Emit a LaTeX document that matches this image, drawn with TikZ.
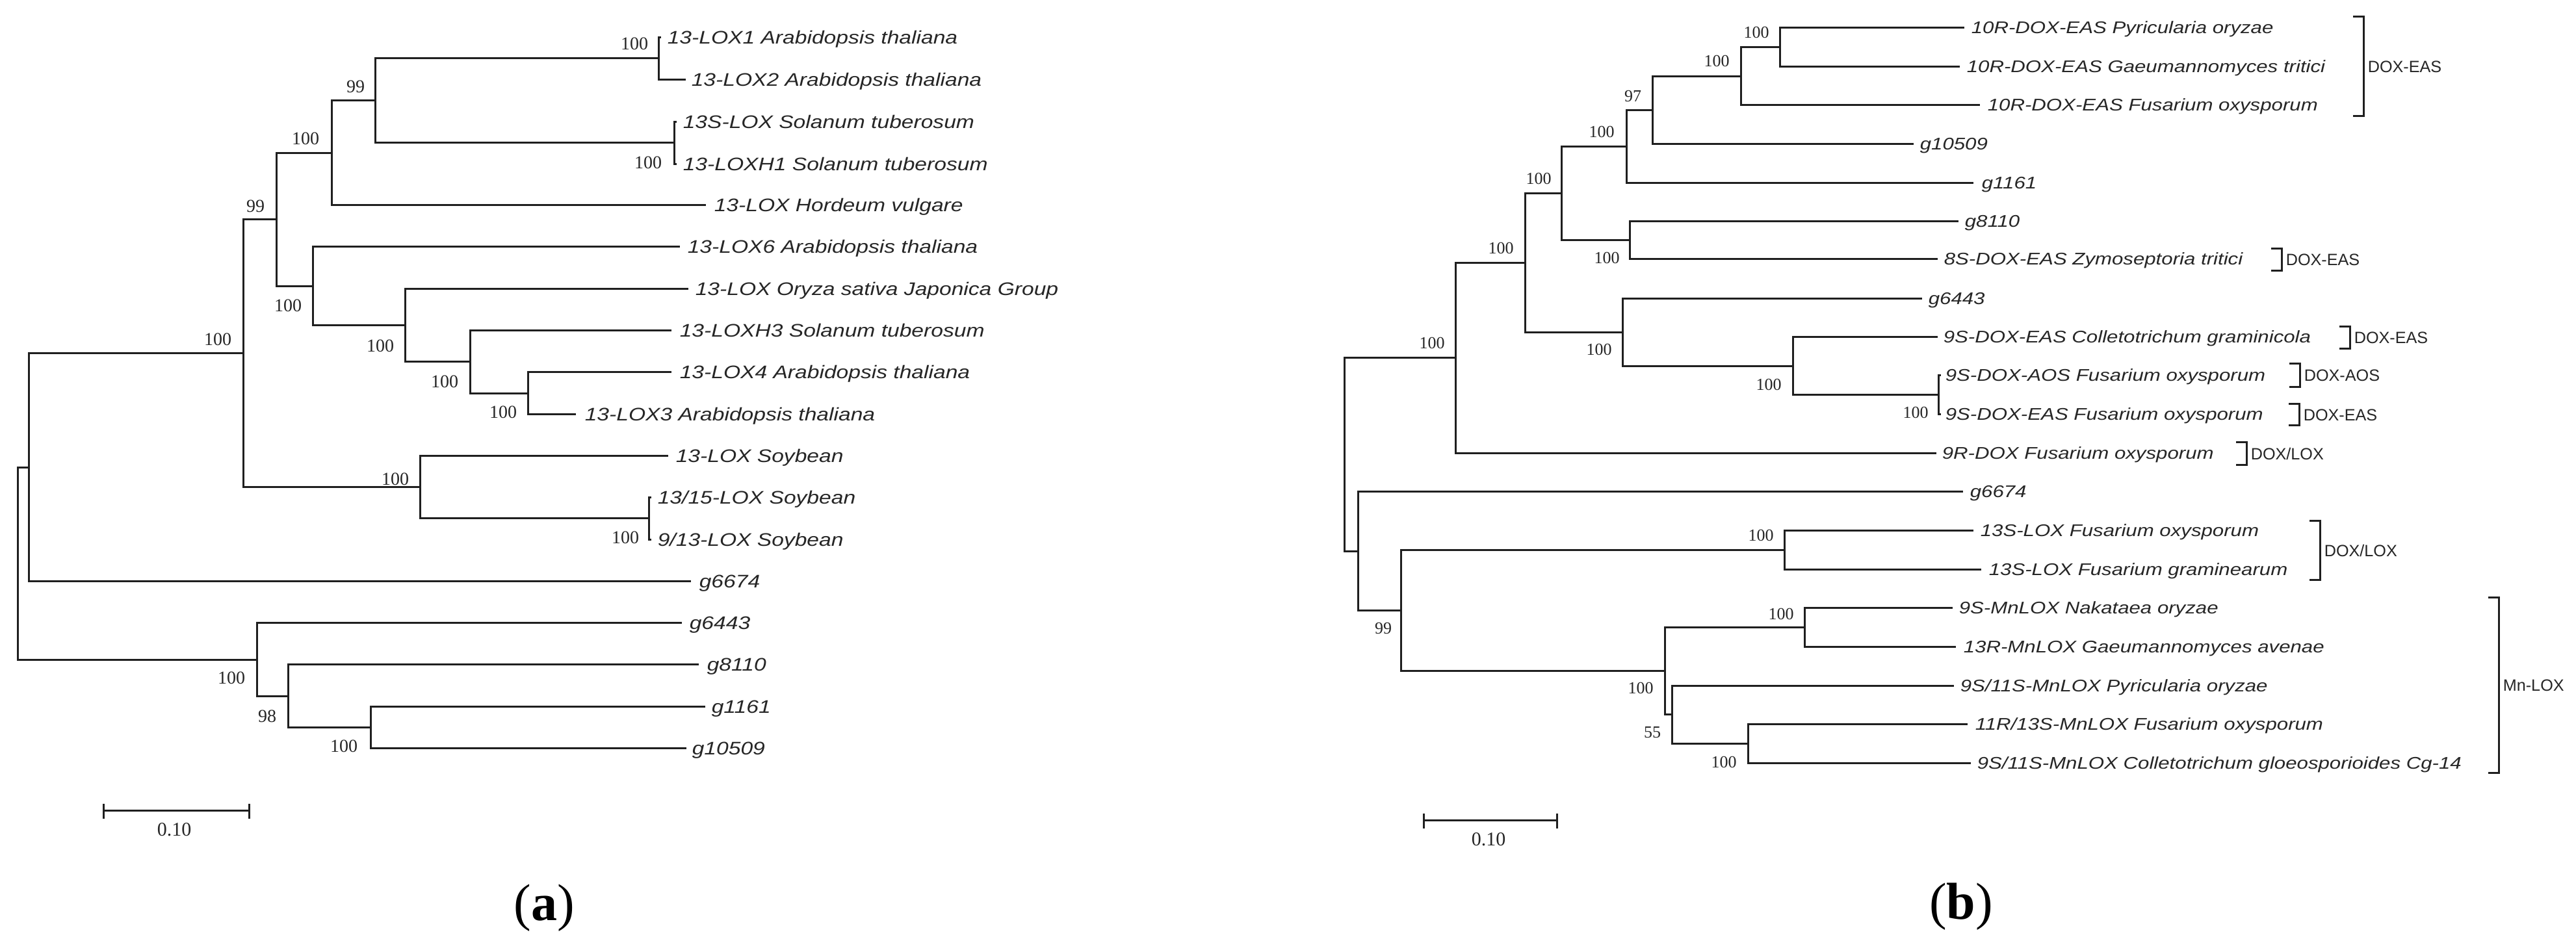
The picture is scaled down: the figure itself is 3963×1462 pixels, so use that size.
\documentclass[tikz,border=0pt]{standalone}
\usepackage{fontspec}
\setmainfont{Liberation Serif}
\newfontfamily\lsans[FakeStretch=1.2]{Liberation Sans}
\newfontfamily\lsansup{Liberation Sans}
\newcommand\leafAfont{\lsans\itshape\fontsize{7}{8}\selectfont}
\newcommand\leafBfont{\lsans\itshape\fontsize{6.5}{7.5}\selectfont}
\newcommand\bsAfont{\rmfamily\fontsize{7}{8}\selectfont}
\newcommand\bsBfont{\rmfamily\fontsize{6.5}{7.5}\selectfont}
\newcommand\grpfont{\lsansup\fontsize{6.3}{7.3}\selectfont}
% leaf: name, tip x, text x, y, text
\newcommand\lfA[5]{\coordinate (#1) at (#2,#4); \node[leafa] (L#1) at (#3,#4+10) {#5};}
\newcommand\lfB[5]{\coordinate (#1) at (#2,#4); \node[leafb] (L#1) at (#3,#4+9) {#5};}
\newcommand\kids[3]{\draw[br] (#1) |- (#2); \draw[br] (#1) |- (#3);}
\newcommand\grp[5]{% name, x, ytop, ybot, text
  \coordinate (#1t) at (#2-16,#3); \coordinate (#1b) at (#2-16,#4);
  \draw[br] (#1t) -- (#2,#3) -- (#2,#4) -- (#1b);
  \node[grp] (#1) at (#2+6,{(#3+#4)/2+9}) {#5};}
\tikzset{
  br/.style={line width=0.75pt, draw=black!88, line join=miter},
  leafa/.style={anchor=base west, inner sep=0pt, font=\leafAfont, text=black!85},
  leafb/.style={anchor=base west, inner sep=0pt, font=\leafBfont, text=black!85},
  bsa/.style={inner sep=0pt, font=\bsAfont, text=black!85},
  bsb/.style={inner sep=0pt, font=\bsBfont, text=black!85},
  grp/.style={anchor=base west, inner sep=0pt, font=\grpfont, text=black!85},
  panel/.style={inner sep=0pt, font=\rmfamily\fontsize{20}{22}\selectfont},
  sclab/.style={inner sep=0pt, font=\rmfamily\fontsize{7.5}{8.5}\selectfont, text=black!85}
}
\begin{document}
\begin{tikzpicture}[x=0.25pt,y=-0.25pt]
\fill[white] (0,0) rectangle (3963,1462);
\useasboundingbox (0,0) rectangle (3963,1462);
% ===================== (a) =====================
\lfA{a1}{1017}{1026}{58}{13-LOX1 Arabidopsis thaliana}
\lfA{a2}{1055}{1063}{123}{13-LOX2 Arabidopsis thaliana}
\lfA{a3}{1041}{1050}{188}{13S-LOX Solanum tuberosum}
\lfA{a4}{1041}{1050}{253}{13-LOXH1 Solanum tuberosum}
\lfA{a5}{1086}{1098}{316}{13-LOX Hordeum vulgare}
\lfA{a6}{1046}{1057}{380}{13-LOX6 Arabidopsis thaliana}
\lfA{a7}{1059}{1069}{445}{13-LOX Oryza sativa Japonica Group}
\lfA{a8}{1033}{1045}{509}{13-LOXH3 Solanum tuberosum}
\lfA{a9}{1033}{1045}{573}{13-LOX4 Arabidopsis thaliana}
\lfA{a10}{886}{899}{638}{13-LOX3 Arabidopsis thaliana}
\lfA{a11}{1028}{1039}{702}{13-LOX Soybean}
\lfA{a12}{1002}{1011}{766}{13/15-LOX Soybean}
\lfA{a13}{1002}{1011}{831}{9/13-LOX Soybean}
\lfA{a14}{1063}{1075}{895}{g6674}
\lfA{a15}{1049}{1060}{959}{g6443}
\lfA{a16}{1075}{1087}{1023}{g8110}
\lfA{a17}{1085}{1094}{1088}{g1161}
\lfA{a18}{1056}{1064}{1152}{g10509}
\coordinate (n12) at (1013,90);
\coordinate (n34) at (1037,220);
\coordinate (n99) at (577,155);
\coordinate (nA) at (510,236);
\coordinate (nG) at (812,606);
\coordinate (nF) at (723,557);
\coordinate (nE) at (623,501);
\coordinate (nD) at (481,441);
\coordinate (nB) at (425,338);
\coordinate (nI) at (998,798);
\coordinate (nH) at (646,750);
\coordinate (nC) at (374,544);
\coordinate (nJ) at (44,720);
\coordinate (nM) at (570,1120);
\coordinate (nL) at (443,1072);
\coordinate (nK) at (395,1016);
\coordinate (rA) at (27,868);
\kids{n12}{a1}{a2}
\kids{n34}{a3}{a4}
\kids{n99}{n12}{n34}
\kids{nA}{n99}{a5}
\kids{nG}{a9}{a10}
\kids{nF}{a8}{nG}
\kids{nE}{a7}{nF}
\kids{nD}{a6}{nE}
\kids{nB}{nA}{nD}
\kids{nI}{a12}{a13}
\kids{nH}{a11}{nI}
\kids{nC}{nB}{nH}
\kids{nJ}{nC}{a14}
\kids{nM}{a17}{a18}
\kids{nL}{a16}{nM}
\kids{nK}{a15}{nL}
\kids{rA}{nJ}{nK}
\node[bsa] (s12) at (976,67) {100};
\node[bsa] (s99) at (547,133) {99};
\node[bsa] (sA) at (470,213) {100};
\node[bsa] (sB) at (393,317) {99};
\node[bsa] (sC) at (335,522) {100};
\node[bsa] (sD) at (443,470) {100};
\node[bsa] (sE) at (585,532) {100};
\node[bsa] (sF) at (684,587) {100};
\node[bsa] (sG) at (774,634) {100};
\node[bsa] (s34) at (997,250) {100};
\node[bsa] (sH) at (608,737) {100};
\node[bsa] (sI) at (962,827) {100};
\node[bsa] (sK) at (356,1043) {100};
\node[bsa] (sL) at (411,1102) {98};
\node[bsa] (sM) at (529,1148) {100};
% scale bar (a)
\coordinate (sbaL) at (159,1248);
\coordinate (sbaR) at (383,1248);
\draw[br] (sbaL) -- (sbaR);
\draw[br] (159,1237) -- (159,1260);
\draw[br] (383,1237) -- (383,1260);
\node[sclab] (sbaT) at (268,1277) {0.10};
\node[panel] (pa) at (837,1397) {(\textbf{a})};
% ===================== (b) =====================
\lfB{b1}{3022}{3032}{43}{10R-DOX-EAS Pyricularia oryzae}
\lfB{b2}{3015}{3025}{103}{10R-DOX-EAS Gaeumannomyces tritici}
\lfB{b3}{3046}{3057}{162}{10R-DOX-EAS Fusarium oxysporum}
\lfB{b4}{2944}{2953}{222}{g10509}
\lfB{b5}{3036}{3048}{282}{g1161}
\lfB{b6}{3013}{3022}{341}{g8110}
\lfB{b7}{2981}{2990}{399}{8S-DOX-EAS Zymoseptoria tritici}
\lfB{b8}{2957}{2966}{460}{g6443}
\lfB{b9}{2981}{2989}{519}{9S-DOX-EAS Colletotrichum graminicola}
\lfB{b10}{2986}{2992}{578}{9S-DOX-AOS Fusarium oxysporum}
\lfB{b11}{2986}{2992}{638}{9S-DOX-EAS Fusarium oxysporum}
\lfB{b12}{2979}{2987}{698}{9R-DOX Fusarium oxysporum}
\lfB{b13}{3020}{3030}{757}{g6674}
\lfB{b14}{3036}{3046}{817}{13S-LOX Fusarium oxysporum}
\lfB{b15}{3048}{3059}{877}{13S-LOX Fusarium graminearum}
\lfB{b16}{3004}{3013}{936}{9S-MnLOX Nakataea oryzae}
\lfB{b17}{3009}{3020}{996}{13R-MnLOX Gaeumannomyces avenae}
\lfB{b18}{3006}{3015}{1056}{9S/11S-MnLOX Pyricularia oryzae}
\lfB{b19}{3027}{3038}{1115}{11R/13S-MnLOX Fusarium oxysporum}
\lfB{b20}{3032}{3041}{1175}{9S/11S-MnLOX Colletotrichum gloeosporioides Cg-14}
\coordinate (p1) at (2738,73);
\coordinate (p2) at (2678,118);
\coordinate (p3) at (2542,170);
\coordinate (p4) at (2502,226);
\coordinate (p6) at (2507,370);
\coordinate (p5) at (2402,298);
\coordinate (p11) at (2982,608);
\coordinate (p10) at (2758,564);
\coordinate (p9) at (2496,512);
\coordinate (p7) at (2346,405);
\coordinate (p8) at (2239,551);
\coordinate (q3) at (2745,847);
\coordinate (q4) at (2776,966);
\coordinate (q7) at (2689,1145);
\coordinate (q6) at (2572,1100);
\coordinate (q5) at (2561,1033);
\coordinate (q2) at (2155,940);
\coordinate (q1) at (2089,849);
\coordinate (rB) at (2068,700);
\kids{p1}{b1}{b2}
\kids{p2}{p1}{b3}
\kids{p3}{p2}{b4}
\kids{p4}{p3}{b5}
\kids{p6}{b6}{b7}
\kids{p5}{p4}{p6}
\kids{p11}{b10}{b11}
\kids{p10}{b9}{p11}
\kids{p9}{b8}{p10}
\kids{p7}{p5}{p9}
\kids{p8}{p7}{b12}
\kids{q3}{b14}{b15}
\kids{q4}{b16}{b17}
\kids{q7}{b19}{b20}
\kids{q6}{b18}{q7}
\kids{q5}{q4}{q6}
\kids{q2}{q3}{q5}
\kids{q1}{b13}{q2}
\kids{rB}{p8}{q1}
\node[bsb] (t1) at (2702,50) {100};
\node[bsb] (t2) at (2641,94) {100};
\node[bsb] (t3) at (2512,148) {97};
\node[bsb] (t4) at (2464,203) {100};
\node[bsb] (t5) at (2367,275) {100};
\node[bsb] (t6) at (2472,397) {100};
\node[bsb] (t7) at (2309,382) {100};
\node[bsb] (t8) at (2203,528) {100};
\node[bsb] (t9) at (2460,538) {100};
\node[bsb] (t10) at (2721,592) {100};
\node[bsb] (t11) at (2947,635) {100};
\node[bsb] (u2) at (2128,967) {99};
\node[bsb] (u3) at (2709,824) {100};
\node[bsb] (u4) at (2740,945) {100};
\node[bsb] (u5) at (2524,1059) {100};
\node[bsb] (u6) at (2542,1127) {55};
\node[bsb] (u7) at (2652,1173) {100};
% group brackets
\grp{g1}{3636}{26}{179}{DOX-EAS}
\grp{g2}{3510}{383}{417}{DOX-EAS}
\grp{g3}{3615}{503}{537}{DOX-EAS}
\grp{g4}{3538}{560}{596}{DOX-AOS}
\grp{g5}{3537}{622}{655}{DOX-EAS}
\grp{g6}{3456}{681}{716}{DOX/LOX}
\grp{g7}{3569}{802}{893}{DOX/LOX}
\grp{g8}{3844}{920}{1190}{Mn-LOX}
% scale bar (b)
\coordinate (sbbL) at (2190,1263);
\coordinate (sbbR) at (2395,1263);
\draw[br] (sbbL) -- (sbbR);
\draw[br] (2190,1252) -- (2190,1275);
\draw[br] (2395,1252) -- (2395,1275);
\node[sclab] (sbbT) at (2290,1292) {0.10};
\node[panel] (pb) at (3017,1395) {(\textbf{b})};
\end{tikzpicture}
\end{document}
